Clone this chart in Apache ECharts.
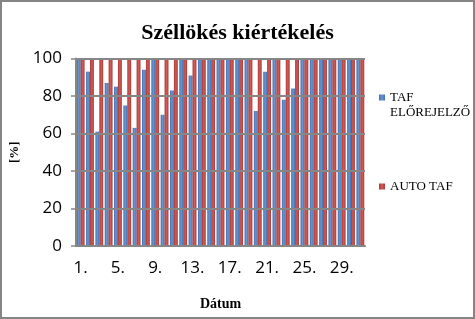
<!DOCTYPE html>
<html>
<head>
<meta charset="utf-8">
<script src="https://cdn.jsdelivr.net/npm/echarts@6/dist/echarts.min.js"></script>
<style>
  html, body { margin: 0; padding: 0; background: #fff; }
  #chart { width: 475px; height: 319px; }
</style>
</head>
<body>
<div id="chart"></div>
<script>
// days of the month
const days = Array.from({ length: 31 }, (_, i) => (i + 1) + '.');

// % values
const tafForecaster = [100, 93, 61, 87, 85, 75, 63, 94, 100, 70, 83, 100, 91, 100, 100, 100,
  100, 100, 100, 72, 93, 100, 78, 84, 100, 100, 100, 100, 100, 100, 100];
const autoTaf = [100, 100, 100, 100, 100, 100, 100, 100, 100, 100, 100, 100, 100, 100, 100, 100,
  100, 100, 100, 100, 100, 100, 100, 100, 100, 100, 100, 100, 100, 100, 100];

const yTicks = [0, 20, 40, 60, 80, 100];

const serif = '"Liberation Serif", "Times New Roman", serif';
const sans = '"Open Sans", "Noto Sans", sans-serif';
const gray = '#868686';

function barFill(base, light) {
  return new echarts.graphic.LinearGradient(0, 0, 1, 0, [
    { offset: 0, color: base },
    { offset: 0.5, color: light },
    { offset: 1, color: base }
  ]);
}

const chart = echarts.init(document.getElementById('chart'));
chart.setOption({
  animation: false,
  backgroundColor: '#fff',
  graphic: [{
    type: 'rect',
    shape: { x: 1, y: 1, width: 473, height: 317 },
    style: { fill: 'none', stroke: '#858585', lineWidth: 2 },
    silent: true
  }],
  title: {
    text: 'Széllökés kiértékelés',
    left: 'center',
    top: 17,
    textStyle: { fontFamily: serif, fontWeight: 'bold', fontSize: 22, color: '#000' }
  },
  legend: [{
    orient: 'vertical',
    left: 379,
    top: 75,
    padding: 0,
    itemWidth: 6,
    itemHeight: 6,
    icon: 'rect',
    data: ['TAF ELŐREJELZŐ'],
    // blank first line keeps the icon level with "TAF"
    formatter: () => ' \nTAF\nELŐREJELZŐ',
    textStyle: { fontFamily: serif, fontSize: 13, color: '#000', lineHeight: 15 }
  }, {
    orient: 'vertical',
    left: 379,
    top: 180,
    padding: 0,
    itemWidth: 6,
    itemHeight: 6,
    icon: 'rect',
    data: ['AUTO TAF'],
    textStyle: { fontFamily: serif, fontSize: 13, color: '#000' }
  }],
  grid: { left: 76, right: 110, top: 58.5, bottom: 73 },
  xAxis: {
    type: 'category',
    data: days,
    name: 'Dátum',
    nameLocation: 'middle',
    nameGap: 51,
    nameTextStyle: { fontFamily: serif, fontWeight: 'bold', fontSize: 14, color: '#000' },
    axisLine: { lineStyle: { color: gray, width: 2 } },
    axisTick: { interval: 0, length: 5, lineStyle: { color: gray, width: 1.5 } },
    axisLabel: { interval: 3, margin: 14, fontFamily: sans, fontSize: 17, color: '#000' }
  },
  yAxis: {
    type: 'value',
    min: yTicks[0],
    max: yTicks[yTicks.length - 1],
    interval: 20,
    z: 3,
    name: '[%]',
    nameLocation: 'middle',
    nameGap: 55,
    nameTextStyle: { fontFamily: serif, fontWeight: 'bold', fontSize: 13, color: '#000' },
    axisLine: { show: true, lineStyle: { color: gray, width: 2 } },
    axisTick: { show: true, length: 5, lineStyle: { color: gray, width: 1.5 } },
    splitLine: { lineStyle: { color: gray, width: 2 } },
    axisLabel: { margin: 14, fontFamily: sans, fontSize: 17, color: '#000' }
  },
  series: [{
    name: 'TAF ELŐREJELZŐ',
    type: 'bar',
    data: tafForecaster,
    barGap: '0%',
    barCategoryGap: '16%',
    itemStyle: { color: barFill('#3f6fb0', '#6a97d2') }
  }, {
    name: 'AUTO TAF',
    type: 'bar',
    data: autoTaf,
    itemStyle: { color: barFill('#a83a37', '#d05a56') }
  }]
});
</script>
</body>
</html>
